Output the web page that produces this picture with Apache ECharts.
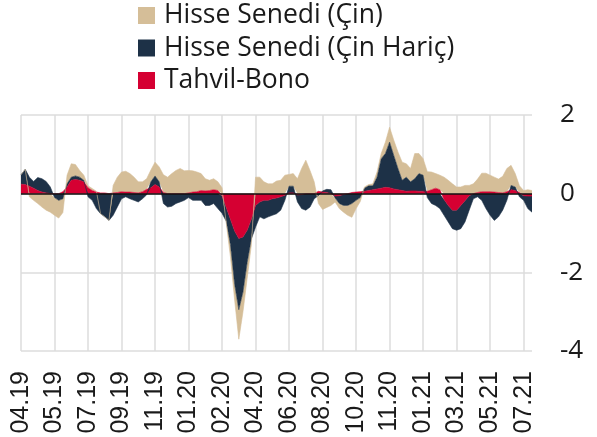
<!DOCTYPE html>
<html lang="tr">
<head>
    <meta charset="UTF-8">
    <title>Fon akımları</title>
    <script src="https://cdn.jsdelivr.net/npm/echarts@6/dist/echarts.min.js"></script>
    <style>
        html, body { margin: 0; padding: 0; background: #fff; }
        #main { width: 597px; height: 437px; }
    </style>
</head>
<body>
<div id="main"></div>
<script>
    // x ekseni etiketleri (her 8 noktada bir)
    var tickLabels = ['04.19', '05.19', '07.19', '09.19', '11.19', '01.20', '02.20', '04.20',
        '06.20', '08.20', '10.20', '11.20', '01.21', '03.21', '05.21', '07.21'];

    // Tahvil-Bono
    var tahvil = [
        0.24, 0.23, 0.19, 0.14, 0.08, 0.04, 0.02, 0.00,
        0.00, 0.00, 0.05, 0.17, 0.34, 0.36, 0.34, 0.30,
        0.15, 0.08, 0.04, 0.02, 0.02, 0.00, 0.02, 0.03,
        0.05, 0.04, 0.04, 0.03, 0.02, 0.05, 0.11, 0.15,
        0.23, 0.17, 0.03, 0.00, 0.00, 0.00, 0.00, 0.00,
        0.02, 0.04, 0.05, 0.08, 0.07, 0.08, 0.10, 0.08,
        -0.05, -0.35, -0.65, -0.95, -1.14, -1.10, -0.93, -0.65,
        -0.30, -0.21, -0.17, -0.17, -0.13, -0.11, -0.08, -0.04,
        0.02, 0.02, -0.03, -0.02, 0.00, 0.00, 0.00, 0.06,
        0.04, 0.03, 0.00, -0.06, -0.05, -0.02, 0.00, 0.03,
        0.04, 0.05, 0.06, 0.08, 0.10, 0.12, 0.14, 0.16,
        0.15, 0.12, 0.10, 0.08, 0.06, 0.07, 0.07, 0.06,
        0.06, 0.06, 0.10, 0.14, 0.10, -0.15, -0.30, -0.42,
        -0.42, -0.30, -0.18, -0.05, 0.00, 0.03, 0.05, 0.05,
        0.05, 0.04, 0.03, 0.02, 0.05, 0.10, 0.08, 0.03,
        -0.05, -0.06, -0.06
    ];

    // Hisse Senedi (Çin Hariç)
    var hisseHaric = [
        0.24, 0.39, 0.23, 0.17, 0.33, 0.34, 0.29, 0.17,
        -0.10, -0.17, -0.13, 0.08, 0.08, 0.09, 0.08, 0.04,
        -0.08, -0.17, -0.38, -0.51, -0.59, -0.68, -0.55, -0.34,
        -0.13, -0.08, -0.13, -0.17, -0.21, -0.13, -0.03, 0.15,
        0.22, 0.13, -0.25, -0.34, -0.32, -0.25, -0.21, -0.17,
        -0.10, -0.17, -0.17, -0.17, -0.30, -0.30, -0.25, -0.38,
        -0.45, -0.35, -0.65, -1.35, -1.81, -1.40, -0.82, -0.50,
        -0.55, -0.38, -0.47, -0.42, -0.42, -0.40, -0.34, -0.13,
        0.17, 0.17, -0.18, -0.36, -0.42, -0.34, -0.13, -0.05,
        0.03, 0.08, 0.10, -0.05, -0.20, -0.28, -0.30, -0.25,
        -0.17, -0.10, 0.08, 0.12, 0.10, 0.30, 0.75, 0.86,
        1.16, 0.85, 0.54, 0.26, 0.36, 0.23, 0.31, 0.45,
        0.41, -0.10, -0.25, -0.30, -0.38, -0.40, -0.42, -0.47,
        -0.51, -0.59, -0.54, -0.37, -0.13, -0.08, -0.17, -0.38,
        -0.55, -0.68, -0.59, -0.42, -0.17, 0.11, 0.09, -0.08,
        -0.12, -0.32, -0.41
    ];

    // Hisse Senedi (Çin)
    var hisseCin = [
        0.00, 0.00, -0.08, -0.17, -0.25, -0.34, -0.42, -0.47,
        -0.45, -0.45, -0.35, 0.22, 0.34, 0.29, 0.17, 0.13,
        0.05, 0.05, 0.02, 0.00, 0.00, 0.00, 0.19, 0.39,
        0.50, 0.53, 0.47, 0.39, 0.28, 0.25, 0.27, 0.30,
        0.35, 0.38, 0.45, 0.42, 0.51, 0.59, 0.64, 0.58,
        0.57, 0.54, 0.50, 0.43, 0.31, 0.26, 0.28, 0.22,
        0.15, -0.05, -0.30, -0.40, -0.75, -0.50, -0.40, -0.15,
        0.42, 0.42, 0.30, 0.25, 0.25, 0.32, 0.34, 0.47,
        0.30, 0.32, 0.38, 0.64, 0.85, 0.59, 0.30, -0.20,
        -0.40, -0.35, -0.30, -0.10, -0.13, -0.17, -0.25, -0.35,
        -0.21, -0.10, 0.03, 0.03, 0.05, 0.13, 0.13, 0.29,
        0.38, 0.39, 0.42, 0.46, 0.34, 0.34, 0.64, 0.51,
        0.42, 0.50, 0.45, 0.37, 0.37, 0.42, 0.34, 0.25,
        0.17, 0.17, 0.21, 0.21, 0.25, 0.34, 0.47, 0.47,
        0.42, 0.38, 0.34, 0.42, 0.59, 0.51, 0.34, 0.17,
        0.08, 0.10, 0.08
    ];

    var categories = tahvil.map(function (v, i) {
        return i % 8 === 0 ? tickLabels[i / 8] : 'p' + i;
    });

    var gridColor = '#dcdcdc';
    var textColor = '#1a1a1a';

    function areaSeries(name, data, color) {
        return {
            name: name,
            type: 'line',
            stack: 'toplam',
            data: data,
            symbol: 'none',
            lineStyle: { width: 0.6, color: color },
            itemStyle: { color: color },
            areaStyle: { color: color, opacity: 1 }
        };
    }

    var chart = echarts.init(document.getElementById('main'));

    var red = areaSeries('Tahvil-Bono', tahvil, '#d50032');
    var navy = areaSeries('Hisse Senedi (Çin Hariç)', hisseHaric, '#1d3147');
    var tan = areaSeries('Hisse Senedi (Çin)', hisseCin, '#d5be98');
    tan.markLine = {
        silent: true,
        symbol: 'none',
        label: { show: false },
        lineStyle: { color: '#111', type: 'solid', width: 1.5 },
        data: [{ yAxis: 0 }]
    };

    var option = {
        animation: false,
        grid: { left: 21, right: 65, top: 115, bottom: 86 },
        legend: {
            orient: 'vertical',
            left: 138,
            top: 2,
            padding: 0,
            icon: 'rect',
            itemWidth: 17,
            itemHeight: 17,
            itemGap: 5.5,
            data: ['Hisse Senedi (Çin)', 'Hisse Senedi (Çin Hariç)', 'Tahvil-Bono'],
            textStyle: { fontFamily: 'Open Sans', fontSize: 26.5, color: textColor, padding: [0, 0, 0, 4] }
        },
        xAxis: {
            type: 'category',
            boundaryGap: false,
            data: categories,
            axisLine: { show: false },
            axisTick: { show: false },
            axisLabel: {
                interval: 7,
                rotate: 90,
                margin: 20,
                fontFamily: 'Liberation Sans',
                fontSize: 25,
                color: textColor
            },
            splitLine: { show: true, interval: 7, lineStyle: { color: gridColor, width: 1.5 } }
        },
        yAxis: {
            type: 'value',
            position: 'right',
            min: -4,
            max: 2,
            interval: 2,
            axisLine: { show: false },
            axisTick: { show: false },
            axisLabel: { margin: 28, fontFamily: 'Open Sans', fontSize: 26, color: textColor },
            splitLine: { lineStyle: { color: gridColor, width: 1.5 } }
        },
        series: [red, navy, tan]
    };

    chart.setOption(option);
</script>
</body>
</html>
